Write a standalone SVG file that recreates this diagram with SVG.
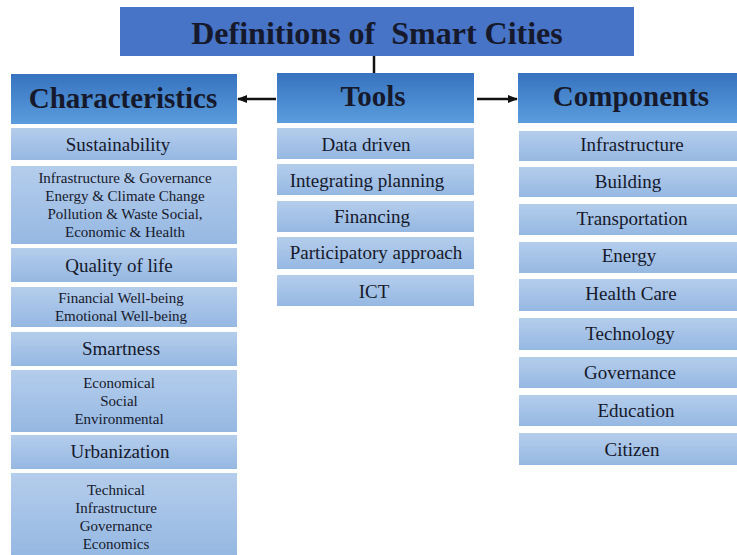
<svg xmlns="http://www.w3.org/2000/svg" width="737" height="555" viewBox="0 0 737 555">
  <style>
    text { font-family: 'Liberation Serif', Tinos, 'Times New Roman', Times, serif; fill: #16192b; text-anchor: middle; }
    .title { font-size: 32px; font-weight: bold; }
    .head { font-size: 29px; font-weight: bold; }
    .item { font-size: 19px; }
    .small { font-size: 15px; }
    .hbox { fill: url(#gHead); }
    .ibox { fill: url(#gItem); }
    .conn { stroke: #111; stroke-width: 2.5; fill: none; }
  </style>
  <defs>
    <linearGradient id="gHead" x1="0" y1="0" x2="0" y2="1">
      <stop offset="0" stop-color="#3773c0"/>
      <stop offset="1" stop-color="#5a9cdc"/>
    </linearGradient>
    <linearGradient id="gItem" x1="0" y1="0" x2="0" y2="1">
      <stop offset="0" stop-color="#b5cdec"/>
      <stop offset="1" stop-color="#95b8e2"/>
    </linearGradient>
    <marker id="arr" viewBox="0 0 10 10" refX="9" refY="5" markerWidth="4" markerHeight="4" orient="auto">
      <path d="M0,1 L10,5 L0,9 z" fill="#111"/>
    </marker>
  </defs>

  <rect width="737" height="555" fill="#ffffff"/>

  <!-- connectors -->
  <g id="connectors">
    <line class="conn" x1="374" y1="56" x2="374" y2="73"/>
    <line class="conn" x1="276" y1="99" x2="238" y2="99" marker-end="url(#arr)"/>
    <line class="conn" x1="477" y1="99" x2="517" y2="99" marker-end="url(#arr)"/>
  </g>

  <!-- title -->
  <g id="title">
    <rect x="120" y="7" width="514" height="49" fill="#4774c6"/>
    <text class="title" x="377" y="44" xml:space="preserve">Definitions of  Smart Cities</text>
  </g>

  <!-- characteristics column -->
  <g id="characteristics">
    <rect class="hbox" x="11" y="74" width="226" height="50"/>
    <text class="head" x="123" y="108">Characteristics</text>
  </g>
  <g id="sustainability">
    <rect class="ibox" x="11" y="128" width="226" height="32"/>
    <text class="item" x="118" y="151">Sustainability</text>
  </g>
  <g id="sustainability-detail">
    <rect class="ibox" x="11" y="166" width="226" height="78"/>
    <text class="small" x="125" y="183">Infrastructure &amp; Governance</text>
    <text class="small" x="125" y="201">Energy &amp; Climate Change</text>
    <text class="small" x="125" y="219">Pollution &amp; Waste Social,</text>
    <text class="small" x="125" y="237">Economic &amp; Health</text>
  </g>
  <g id="quality">
    <rect class="ibox" x="11" y="248" width="226" height="34"/>
    <text class="item" x="119" y="272">Quality of life</text>
  </g>
  <g id="quality-detail">
    <rect class="ibox" x="11" y="287" width="226" height="40"/>
    <text class="small" x="121" y="303">Financial Well-being</text>
    <text class="small" x="121" y="321">Emotional Well-being</text>
  </g>
  <g id="smartness">
    <rect class="ibox" x="11" y="332" width="226" height="34"/>
    <text class="item" x="121" y="355">Smartness</text>
  </g>
  <g id="smartness-detail">
    <rect class="ibox" x="11" y="370" width="226" height="62"/>
    <text class="small" x="119" y="388">Economical</text>
    <text class="small" x="119" y="406">Social</text>
    <text class="small" x="119" y="424">Environmental</text>
  </g>
  <g id="urbanization">
    <rect class="ibox" x="11" y="435" width="226" height="34"/>
    <text class="item" x="120" y="458">Urbanization</text>
  </g>
  <g id="urbanization-detail">
    <rect class="ibox" x="11" y="473" width="226" height="82"/>
    <text class="small" x="116" y="495">Technical</text>
    <text class="small" x="116" y="513">Infrastructure</text>
    <text class="small" x="116" y="531">Governance</text>
    <text class="small" x="116" y="549">Economics</text>
  </g>

  <!-- tools column -->
  <g id="tools">
    <rect class="hbox" x="277" y="73" width="197" height="50"/>
    <text class="head" x="373" y="106">Tools</text>
  </g>
  <g id="data-driven">
    <rect class="ibox" x="277" y="128" width="197" height="31"/>
    <text class="item" x="366" y="151">Data driven</text>
  </g>
  <g id="integrating-planning">
    <rect class="ibox" x="277" y="164" width="197" height="31"/>
    <text class="item" x="367" y="187">Integrating planning</text>
  </g>
  <g id="financing">
    <rect class="ibox" x="277" y="201" width="197" height="31"/>
    <text class="item" x="372" y="223">Financing</text>
  </g>
  <g id="participatory">
    <rect class="ibox" x="277" y="237" width="197" height="32"/>
    <text class="item" x="376" y="259">Participatory approach</text>
  </g>
  <g id="ict">
    <rect class="ibox" x="277" y="275" width="197" height="31"/>
    <text class="item" x="374" y="298">ICT</text>
  </g>

  <!-- components column -->
  <g id="components">
    <rect class="hbox" x="518" y="73" width="219" height="50"/>
    <text class="head" x="631" y="106">Components</text>
  </g>
  <g id="c-infrastructure">
    <rect class="ibox" x="519" y="131" width="218" height="30"/>
    <text class="item" x="632" y="151">Infrastructure</text>
  </g>
  <g id="c-building">
    <rect class="ibox" x="519" y="167" width="218" height="30"/>
    <text class="item" x="628" y="188">Building</text>
  </g>
  <g id="c-transportation">
    <rect class="ibox" x="519" y="204" width="218" height="31"/>
    <text class="item" x="632" y="225">Transportation</text>
  </g>
  <g id="c-energy">
    <rect class="ibox" x="519" y="242" width="218" height="31"/>
    <text class="item" x="629" y="262">Energy</text>
  </g>
  <g id="c-health">
    <rect class="ibox" x="519" y="279" width="218" height="32"/>
    <text class="item" x="631" y="300">Health Care</text>
  </g>
  <g id="c-technology">
    <rect class="ibox" x="519" y="318" width="218" height="32"/>
    <text class="item" x="630" y="340">Technology</text>
  </g>
  <g id="c-governance">
    <rect class="ibox" x="519" y="357" width="218" height="31"/>
    <text class="item" x="630" y="379">Governance</text>
  </g>
  <g id="c-education">
    <rect class="ibox" x="519" y="395" width="218" height="31"/>
    <text class="item" x="636" y="417">Education</text>
  </g>
  <g id="c-citizen">
    <rect class="ibox" x="519" y="433" width="218" height="32"/>
    <text class="item" x="632" y="456">Citizen</text>
  </g>
</svg>
